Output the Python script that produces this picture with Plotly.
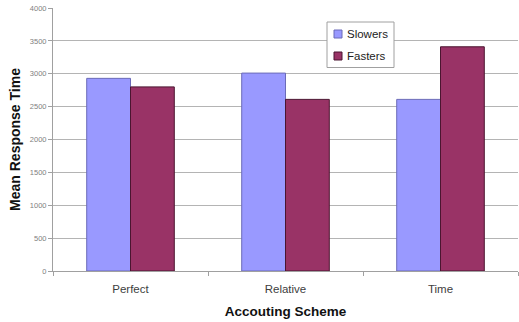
import plotly.graph_objects as go

# Mean response time per accounting scheme, split by player group
schemes = ["Perfect", "Relative", "Time"]
slowers = [2930, 3010, 2610]
fasters = [2800, 2610, 3410]
series_names = ["Slowers", "Fasters"]

y_ticks = [0, 500, 1000, 1500, 2000, 2500, 3000, 3500, 4000]

SLOW_FILL = "#9999FF"
FAST_FILL = "#993366"
SLOW_EDGE = "#6b6bb8"
FAST_EDGE = "#4a1530"
FONT = "Liberation Sans, Arial, sans-serif"

W, H = 519, 322
M_L, M_R, M_T, M_B = 53, 1, 8, 51
PLOT_W = W - M_L - M_R
PLOT_H = H - M_T - M_B


def px_x(px):
    """Convert a pixel column to paper x."""
    return (px - M_L) / PLOT_W


def px_y(py):
    """Convert a pixel row to paper y."""
    return (H - M_B - py) / PLOT_H


fig = go.Figure()
fig.add_trace(go.Bar(
    name=series_names[0], x=schemes, y=slowers,
    marker=dict(color=SLOW_FILL, line=dict(color=SLOW_EDGE, width=1)),
))
fig.add_trace(go.Bar(
    name=series_names[1], x=schemes, y=fasters,
    marker=dict(color=FAST_FILL, line=dict(color=FAST_EDGE, width=1)),
))

# Compact legend box drawn as shapes + text
shapes = [dict(
    type="rect", xref="paper", yref="paper",
    x0=px_x(327), x1=px_x(394), y0=px_y(67.5), y1=px_y(22),
    line=dict(color="#a0a0a0", width=1), fillcolor="white", layer="above",
)]
annotations = []
for name, fill, edge, cy in [
    (series_names[0], SLOW_FILL, SLOW_EDGE, 34),
    (series_names[1], FAST_FILL, FAST_EDGE, 56),
]:
    shapes.append(dict(
        type="rect", xref="paper", yref="paper",
        x0=px_x(334), x1=px_x(342), y0=px_y(cy + 4), y1=px_y(cy - 4),
        line=dict(color=edge, width=1), fillcolor=fill, layer="above",
    ))
    annotations.append(dict(
        text=name, xref="paper", yref="paper",
        x=px_x(345), y=px_y(cy), xanchor="left", yanchor="middle",
        showarrow=False, font=dict(size=11.5, color="#222222"),
    ))

fig.update_layout(
    width=W, height=H,
    margin=dict(l=M_L, r=M_R, t=M_T, b=M_B),
    paper_bgcolor="white", plot_bgcolor="white",
    barmode="group", bargap=0.435, bargroupgap=0,
    font=dict(family=FONT, color="#333333"),
    showlegend=False,
    shapes=shapes, annotations=annotations,
)

fig.update_xaxes(
    showline=True, linecolor="#a0a0a0", linewidth=1,
    ticks="outside", tickson="boundaries", ticklen=4, tickcolor="#a0a0a0",
    ticklabelstandoff=7,
    tickfont=dict(size=11.5, color="#404040"),
    title=dict(text="<b>Accouting Scheme</b>", font=dict(size=13.5, color="#111111"), standoff=12),
    showgrid=False,
)
fig.update_yaxes(
    range=[0, 4000], tickvals=y_ticks,
    showline=True, linecolor="#a0a0a0", linewidth=1,
    ticks="outside", ticklen=4, tickcolor="#a0a0a0",
    tickfont=dict(size=7.5, color="#808080"),
    showgrid=True, gridcolor="#b4b4b4", gridwidth=1,
    zeroline=False,
    title=dict(text="<b>Mean Response Time</b>", font=dict(size=14, color="#111111"), standoff=5),
)

fig.write_html("out.html")
